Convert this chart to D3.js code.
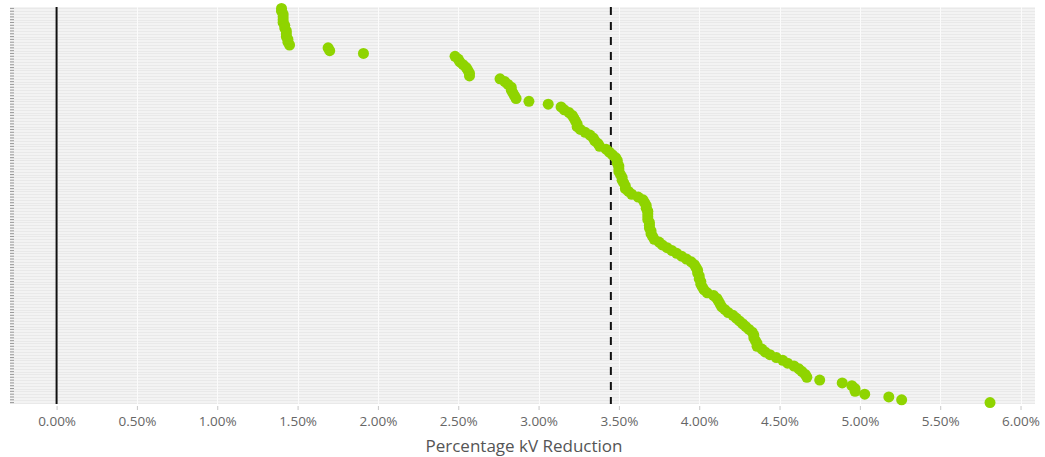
<!DOCTYPE html>
<html>
<head>
<meta charset="utf-8">
<script src="https://cdn.jsdelivr.net/npm/d3@7"></script>
<style>
  html, body { margin: 0; padding: 0; background: #ffffff; }
  svg { display: block; }
</style>
</head>
<body>
<svg id="chart" width="1045" height="457"></svg>
<script>
// Percentage kV reduction per feeder, sorted ascending (one row per feeder)
const reductionValues = [
  1.40, 1.40, 1.41, 1.41, 1.41, 1.41, 1.42, 1.42, 1.43, 1.43, 1.43, 1.44, 1.44, 1.45,
  1.69, 1.70, 1.91,
  2.48, 2.50, 2.51, 2.53, 2.55, 2.56, 2.57, 2.57,
  2.76, 2.79, 2.81, 2.83, 2.83, 2.84, 2.85, 2.86,
  2.94, 3.06,
  3.14, 3.16, 3.19, 3.21, 3.22, 3.23, 3.24, 3.24, 3.26, 3.29, 3.32, 3.34, 3.35, 3.37, 3.38,
  3.42, 3.44, 3.46, 3.48, 3.49, 3.49, 3.50, 3.50, 3.50, 3.51, 3.52, 3.52, 3.53, 3.54, 3.54,
  3.56, 3.58, 3.62, 3.65, 3.66, 3.67, 3.67, 3.68, 3.68, 3.68, 3.68, 3.69, 3.69, 3.69, 3.70,
  3.70, 3.71, 3.72, 3.75, 3.77, 3.80, 3.83, 3.86, 3.89, 3.92, 3.95, 3.97, 3.98, 3.99, 3.99,
  4.00, 4.00, 4.01, 4.01, 4.02, 4.03, 4.05, 4.09, 4.11, 4.12, 4.13, 4.14, 4.16, 4.18, 4.21,
  4.23, 4.25, 4.27, 4.29, 4.31, 4.33, 4.34, 4.34, 4.35, 4.36, 4.36, 4.39, 4.41, 4.44, 4.48,
  4.52, 4.55, 4.59, 4.62, 4.64, 4.66, 4.67, 4.75, 4.89, 4.95, 4.97, 4.97, 5.03, 5.18, 5.26,
  5.81
];

// Feeder identifiers (y categories, labels not shown)
const feederIds = reductionValues.map((_, i) => "F" + String(i + 1).padStart(3, "0"));

// X axis tick values (percent)
const xTickValues = [0, 0.5, 1.0, 1.5, 2.0, 2.5, 3.0, 3.5, 4.0, 4.5, 5.0, 5.5, 6.0];

// Average reduction reference line (percent)
const averageReduction = 3.45;

const axisTitle = "Percentage kV Reduction";

const svg = d3.select("#chart");
const plot = { left: 10, right: 1035, top: 7, bottom: 404 };
const font = "'Open Sans', 'DejaVu Sans', sans-serif";

const x = d3.scaleLinear()
  .domain([-0.29, 6.09])
  .range([plot.left, plot.right]);

const y = d3.scaleBand()
  .domain(feederIds)
  .range([plot.top, plot.bottom])
  .paddingInner(0)
  .paddingOuter(0);

// Plot background
svg.append("rect")
  .attr("x", plot.left)
  .attr("y", plot.top)
  .attr("width", plot.right - plot.left)
  .attr("height", plot.bottom - plot.top)
  .attr("fill", "#f3f3f3");

// Horizontal row gridlines
svg.append("g")
  .selectAll("line")
  .data(feederIds)
  .join("line")
  .attr("x1", plot.left)
  .attr("x2", plot.right)
  .attr("y1", d => Math.round(y(d) + y.bandwidth() / 2) + 0.5)
  .attr("y2", d => Math.round(y(d) + y.bandwidth() / 2) + 0.5)
  .attr("stroke", "#e9e9e9")
  .attr("stroke-width", 1);

// Vertical gridlines
svg.append("g")
  .selectAll("line")
  .data(xTickValues)
  .join("line")
  .attr("x1", d => Math.round(x(d)) + 0.5)
  .attr("x2", d => Math.round(x(d)) + 0.5)
  .attr("y1", plot.top)
  .attr("y2", plot.bottom)
  .attr("stroke", "#fbfbfb")
  .attr("stroke-width", 1);

// Y axis: tick marks only
const yAxis = d3.axisLeft(y).tickSize(4).tickSizeOuter(0).tickFormat("");
const yG = svg.append("g")
  .attr("transform", `translate(${plot.left + 4},0)`)
  .call(yAxis);
yG.select(".domain").remove();
yG.selectAll(".tick line").attr("stroke", "#9a9a9a");

// X axis
const xAxis = d3.axisBottom(x)
  .tickValues(xTickValues)
  .tickSize(4)
  .tickSizeOuter(0)
  .tickPadding(6)
  .tickFormat(d => d.toFixed(2) + "%");
const xG = svg.append("g")
  .attr("transform", `translate(0,${plot.bottom + 2})`)
  .call(xAxis);
xG.select(".domain").remove();
xG.selectAll(".tick line").attr("stroke", "#c8c8c8");
xG.selectAll(".tick text")
  .attr("fill", "#666666")
  .style("font-family", font)
  .style("font-size", "13.5px");

// Axis title
svg.append("text")
  .attr("x", 524)
  .attr("y", 452)
  .attr("text-anchor", "middle")
  .attr("fill", "#555555")
  .style("font-family", font)
  .style("font-size", "17px")
  .text(axisTitle);

// Zero reference line
svg.append("line")
  .attr("x1", x(0))
  .attr("x2", x(0))
  .attr("y1", plot.top)
  .attr("y2", plot.bottom)
  .attr("stroke", "#111111")
  .attr("stroke-width", 2);

// Average reference line (dashed)
svg.append("line")
  .attr("x1", x(averageReduction))
  .attr("x2", x(averageReduction))
  .attr("y1", plot.top)
  .attr("y2", plot.bottom)
  .attr("stroke", "#111111")
  .attr("stroke-width", 2)
  .attr("stroke-dasharray", "8,7");

// Dots
svg.append("g")
  .selectAll("circle")
  .data(reductionValues.map((v, i) => ({ id: feederIds[i], value: v })))
  .join("circle")
  .attr("cx", d => x(d.value))
  .attr("cy", d => y(d.id) + y.bandwidth() / 2)
  .attr("r", 5.5)
  .attr("fill", "#8fd400");
</script>
</body>
</html>
